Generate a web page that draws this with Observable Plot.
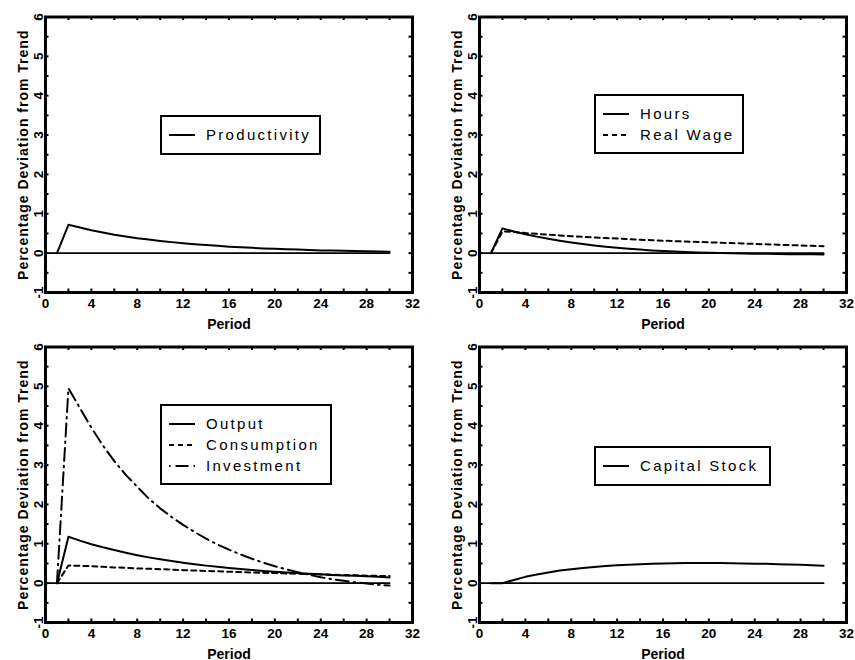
<!DOCTYPE html>
<html><head><meta charset="utf-8">
<script src="https://cdn.jsdelivr.net/npm/d3@7"></script>
<script src="https://cdn.jsdelivr.net/npm/@observablehq/plot@0.6"></script>
<style>
body{margin:0;background:#fff;}
#wrap{position:relative;width:855px;height:660px;font-family:"Liberation Sans",Arial,Helvetica,sans-serif;}
.panel{position:absolute;}
.legend{position:absolute;border:2px solid #000;background:#fff;box-sizing:border-box;font-size:15px;letter-spacing:2.3px;color:#000;}
.row{position:absolute;left:0;height:20px;width:100%;}
.row svg{position:absolute;left:7px;top:0;}
.row span{position:absolute;left:44px;top:0;line-height:20px;white-space:nowrap;}
</style></head><body><div id="wrap"></div>
<script>
// ---- data ----
const periods = [1,2,3,4,5,6,7,8,9,10,11,12,13,14,15,16,17,18,19,20,21,22,23,24,25,26,27,28,29,30];
const productivity = [0,0.72,0.65,0.58,0.525,0.47,0.425,0.38,0.345,0.31,0.28,0.25,0.225,0.205,0.185,0.165,0.15,0.135,0.12,0.11,0.10,0.09,0.08,0.07,0.065,0.058,0.052,0.047,0.042,0.038];
const hours = [0,0.63,0.55,0.48,0.42,0.365,0.315,0.27,0.23,0.195,0.165,0.135,0.11,0.09,0.07,0.055,0.04,0.028,0.018,0.01,0.003,-0.003,-0.008,-0.013,-0.017,-0.021,-0.025,-0.028,-0.031,-0.034];
const realWage = [0,0.55,0.54,0.51,0.49,0.47,0.45,0.43,0.415,0.40,0.385,0.37,0.355,0.34,0.33,0.315,0.305,0.295,0.285,0.275,0.265,0.255,0.245,0.235,0.225,0.215,0.205,0.195,0.185,0.175];
const output = [0,1.18,1.08,0.99,0.91,0.84,0.77,0.71,0.655,0.605,0.56,0.52,0.48,0.445,0.415,0.385,0.36,0.335,0.31,0.29,0.27,0.255,0.24,0.225,0.21,0.195,0.185,0.172,0.16,0.145];
const consumption = [0,0.45,0.44,0.43,0.415,0.40,0.39,0.375,0.365,0.355,0.345,0.33,0.32,0.31,0.30,0.29,0.28,0.27,0.265,0.255,0.245,0.24,0.23,0.22,0.215,0.205,0.20,0.19,0.185,0.18];
const investment = [0,4.95,4.45,3.95,3.5,3.1,2.75,2.45,2.15,1.9,1.68,1.48,1.3,1.13,0.98,0.85,0.73,0.62,0.52,0.43,0.35,0.28,0.21,0.15,0.10,0.06,0.02,-0.01,-0.04,-0.06];
const capitalStock = [0,0,0.08,0.16,0.22,0.27,0.32,0.355,0.385,0.41,0.435,0.455,0.47,0.48,0.49,0.50,0.505,0.51,0.51,0.51,0.51,0.505,0.50,0.495,0.49,0.48,0.475,0.465,0.455,0.445];
const baselinePeriods = [0, 30];
const xTickValues = [0,4,8,12,16,20,24,28,32];
const xMinorTicks = [2,4,6,8,10,12,14,16,18,20,22,24,26,28,30];
const yTickValues = [-1,0,1,2,3,4,5,6];
const yMinorTicks = [-0.5,0,0.5,1,1.5,2,2.5,3,3.5,4,4.5,5,5.5];
const xDomain = [0, 32];
const yDomain = [-1, 6];
const yAxisLabel = "Percentage Deviation from Trend";
const xAxisLabel = "Period";

const SOLID = null, DASH = "5,4", DASHDOT = "13,5,1.5,5";

const panels = [
  {left:0, top:0, width:427, mL:45, mR:15, legend:{left:160,top:115,width:161,height:40},
   series:[{label:"Productivity", values:productivity, dash:SOLID}]},
  {left:427, top:0, width:428, mL:52, mR:9, legend:{left:594,top:94,width:150,height:60},
   series:[{label:"Hours", values:hours, dash:SOLID},{label:"Real Wage", values:realWage, dash:DASH}]},
  {left:0, top:330, width:427, mL:45, mR:15, legend:{left:160,top:404,width:172,height:81},
   series:[{label:"Output", values:output, dash:SOLID},{label:"Consumption", values:consumption, dash:DASH},{label:"Investment", values:investment, dash:DASHDOT}]},
  {left:427, top:330, width:428, mL:52, mR:9, legend:{left:594,top:446,width:177,height:40},
   series:[{label:"Capital Stock", values:capitalStock, dash:SOLID}]}
];

const wrap = document.getElementById("wrap");
const H = 330, mT = 16.5, mB = 38, TICK = 3.5;
const fmt = d => (d < 0 ? "-" : "") + Math.abs(d);

for (const p of panels) {
  const innerH = H - mT - mB;
  const innerW = p.width - p.mL - p.mR;
  const chart = Plot.plot({
    width: p.width, height: H,
    marginLeft: p.mL, marginRight: p.mR, marginTop: mT, marginBottom: mB,
    x: {domain: xDomain},
    y: {domain: yDomain},
    style: {fontFamily: '"Liberation Sans", Arial, Helvetica, sans-serif', color: "#000", background: "transparent", overflow: "visible"},
    marks: [
      Plot.lineY(baselinePeriods, {x: d => d, y: () => 0, stroke: "#000", strokeWidth: 1.8}),
      ...p.series.map(s => Plot.lineY(s.values, {x: periods, y: d => d, stroke: "#000", strokeWidth: 2, strokeDasharray: s.dash ?? undefined})),
      Plot.tickX(xMinorTicks, {x: d => d, insetTop: innerH - TICK, stroke: "#000", strokeWidth: 2}),
      Plot.tickX(xMinorTicks, {x: d => d, insetBottom: innerH - TICK, stroke: "#000", strokeWidth: 2}),
      Plot.tickY(yMinorTicks, {y: d => d, insetRight: innerW - TICK, stroke: "#000", strokeWidth: 2}),
      Plot.tickY(yMinorTicks, {y: d => d, insetLeft: innerW - TICK, stroke: "#000", strokeWidth: 2}),
      Plot.frame({stroke: "#000", strokeWidth: 3}),
      Plot.axisX({ticks: xTickValues, tickFormat: fmt, tickSize: 0, tickPadding: 6, label: null, fontSize: 13.5, fontWeight: "bold"}),
      Plot.axisY({ticks: yTickValues, tickFormat: fmt, tickSize: 0, tickPadding: 3, label: null, rotate: -90, textAnchor: "middle", lineAnchor: "bottom", fontSize: 13.5, fontWeight: "bold"}),
      Plot.text([yAxisLabel], {text: d => d, frameAnchor: "left", rotate: -90, dx: -18, textAnchor: "middle", lineAnchor: "bottom", fontSize: 14, fontWeight: "bold"}),
      Plot.text([xAxisLabel], {text: d => d, frameAnchor: "bottom", dy: 36, textAnchor: "middle", lineAnchor: "bottom", fontSize: 14, fontWeight: "bold"})
    ]
  });
  d3.select(chart).selectAll("text").filter(function() { return this.textContent === yAxisLabel; }).style("letter-spacing", "1px");
  const div = document.createElement("div");
  div.className = "panel";
  div.style.left = p.left + "px";
  div.style.top = p.top + "px";
  div.appendChild(chart);
  wrap.appendChild(div);

  // legend
  const lg = document.createElement("div");
  lg.className = "legend";
  Object.assign(lg.style, {left: p.legend.left + "px", top: p.legend.top + "px", width: p.legend.width + "px", height: p.legend.height + "px"});
  p.series.forEach((s, i) => {
    const row = document.createElement("div");
    row.className = "row";
    row.style.top = (8 + i * 21) + "px";
    const ns = "http://www.w3.org/2000/svg";
    const svg = document.createElementNS(ns, "svg");
    svg.setAttribute("width", 26); svg.setAttribute("height", 20);
    const ln = document.createElementNS(ns, "line");
    ln.setAttribute("x1", 0); ln.setAttribute("x2", 26); ln.setAttribute("y1", 10); ln.setAttribute("y2", 10);
    ln.setAttribute("stroke", "#000"); ln.setAttribute("stroke-width", 2);
    if (s.dash) { ln.setAttribute("stroke-dasharray", s.dash); if (s.dash === DASHDOT) ln.setAttribute("stroke-dashoffset", 18); }
    svg.appendChild(ln);
    const sp = document.createElement("span");
    sp.textContent = s.label;
    row.appendChild(svg); row.appendChild(sp);
    lg.appendChild(row);
  });
  wrap.appendChild(lg);
}
</script></body></html>
